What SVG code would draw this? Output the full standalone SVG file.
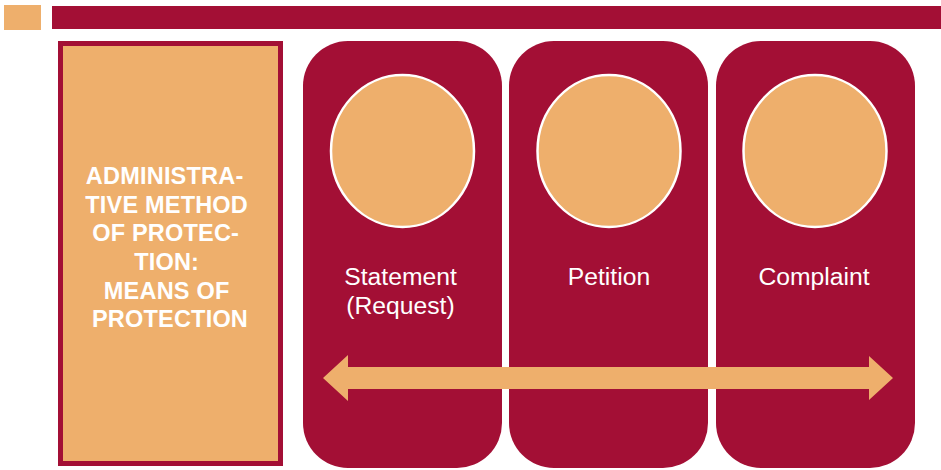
<svg xmlns="http://www.w3.org/2000/svg" width="941" height="470" viewBox="0 0 941 470">
<style>
.crim{fill:#A30F35}
.org{fill:#EEAF6C}
.panel{fill:#A30F35}
.circ{fill:#EEAF6C;stroke:#FFFFFF;stroke-width:2.5}
.lbl{font-family:"Liberation Sans",Arial,sans-serif;font-size:24.7px;fill:#FFFFFF;text-anchor:middle}
.title{font-family:"Liberation Sans",Arial,sans-serif;font-size:23.5px;font-weight:bold;fill:#FFFFFF;text-anchor:middle;letter-spacing:0.2px}
</style>
<rect x="4" y="5" width="37" height="25" class="org"/>
<rect x="52" y="6" width="889" height="23" class="crim"/>
<g id="means">
<rect x="60.5" y="43.5" width="220" height="420" fill="#EEAF6C" stroke="#A30F35" stroke-width="5"/>
<text class="title">
<tspan x="168" y="183.5">ADMINISTRA-</tspan>
<tspan x="170" y="212.5">TIVE METHOD</tspan>
<tspan x="169" y="241">OF PROTEC-</tspan>
<tspan x="170" y="270">TION:</tspan>
<tspan x="170" y="298.5">MEANS OF</tspan>
<tspan x="170" y="327">PROTECTION</tspan>
</text>
</g>
<g id="statement">
<rect x="303" y="41" width="199" height="427" rx="45" ry="45" class="panel"/>
<ellipse cx="402.5" cy="151" rx="71.5" ry="76" class="circ"/>
<text class="lbl"><tspan x="400.5" y="284.5">Statement</tspan><tspan x="400.5" y="313.5">(Request)</tspan></text>
</g>
<g id="petition">
<rect x="509" y="41" width="199" height="427" rx="45" ry="45" class="panel"/>
<ellipse cx="609" cy="151" rx="71.5" ry="76" class="circ"/>
<text class="lbl" x="609" y="284.5">Petition</text>
</g>
<g id="complaint">
<rect x="716" y="41" width="199" height="427" rx="45" ry="45" class="panel"/>
<ellipse cx="815" cy="151" rx="71.5" ry="76" class="circ"/>
<text class="lbl" x="814" y="284.5">Complaint</text>
</g>
<g id="connectors">
<polygon class="org" points="323,378 348,355 348,367 869,367 869,356 893,378 869,400 869,389 348,389 348,401"/>
</g>
</svg>
